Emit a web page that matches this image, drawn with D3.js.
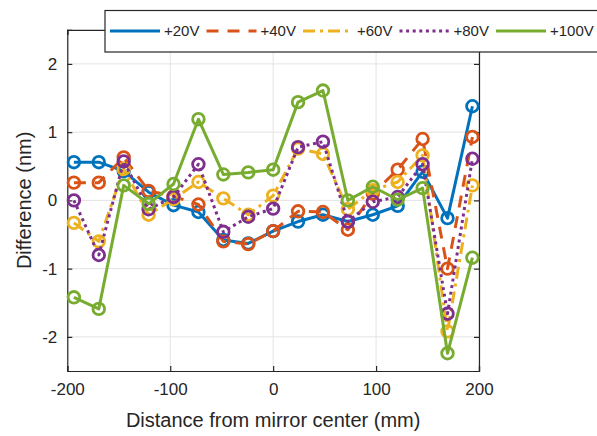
<!DOCTYPE html>
<html><head><meta charset="utf-8">
<script src="https://cdn.jsdelivr.net/npm/d3@7"></script>
<style>body{margin:0;background:#fff}svg{display:block}text{font-family:"Liberation Sans",Arial,sans-serif;fill:#262626}</style>
</head><body><svg id="c" width="597" height="436"></svg>
<script>
const xPos = [-193.6,-169.4,-145.2,-121,-96.8,-72.6,-48.4,-24.2,0,24.2,48.4,72.6,96.8,121,145.2,169.4,193.6];
const v20  = [0.56,0.56,0.43,0.12,-0.07,-0.17,-0.58,-0.63,-0.45,-0.31,-0.21,-0.31,-0.21,-0.08,0.42,-0.26,1.38];
const v40  = [0.26,0.26,0.63,0.14,0.06,-0.06,-0.60,-0.64,-0.45,-0.16,-0.17,-0.43,0.10,0.45,0.90,-1.00,0.93];
const v60  = [-0.33,-0.60,0.46,-0.21,0.02,0.27,0.03,-0.21,0.07,0.76,0.68,-0.13,0.15,0.27,0.66,-1.92,0.22];
const v80  = [0.00,-0.80,0.57,-0.13,0.05,0.53,-0.46,-0.24,-0.12,0.78,0.86,-0.31,-0.02,0.05,0.53,-1.66,0.61];
const v100 = [-1.42,-1.59,0.22,-0.05,0.24,1.19,0.38,0.41,0.45,1.44,1.61,0.00,0.20,0.01,0.18,-2.24,-0.84];
const seriesNames = ["+20V","+40V","+60V","+80V","+100V"];
const xTicks = [-200,-100,0,100,200];
const yTicks = [-2,-1,0,1,2];
const xLabel = "Distance from mirror center (mm)";
const yLabel = "Difference (nm)";

const colors = ["#0072BD","#D95319","#EDB120","#7E2F8E","#77AC30"];
const dashes = [null,"12,9","12,5,3,5","3,3.6",null];
const allVals = [v20,v40,v60,v80,v100];

const svg = d3.select("#c");
const L=67.3,R=479,T=29.8,B=371;
const x = d3.scaleLinear().domain([-200,200]).range([L,R]);
const y = d3.scaleLinear().domain([-2.5,2.5]).range([B,T]);

// grid
const g = svg.append("g");
g.selectAll(".gx").data(xTicks).join("line").attr("x1",d=>x(d)).attr("x2",d=>x(d)).attr("y1",T).attr("y2",B).attr("stroke","#e3e3e3").attr("stroke-width",1);
g.selectAll(".gy").data(yTicks).join("line").attr("y1",d=>y(d)).attr("y2",d=>y(d)).attr("x1",L).attr("x2",R).attr("stroke","#e3e3e3").attr("stroke-width",1);

// axes
const ax = svg.append("g").attr("transform",`translate(0,${B})`).call(d3.axisBottom(x).tickValues(xTicks).tickSize(-5).tickPadding(12).tickFormat(d3.format("d")));
const ay = svg.append("g").attr("transform",`translate(${L},0)`).call(d3.axisLeft(y).tickValues(yTicks).tickSize(-5).tickPadding(10).tickFormat(d3.format("d")));
const axT = svg.append("g").attr("transform",`translate(0,${T})`).call(d3.axisTop(x).tickValues(xTicks).tickSize(-5).tickFormat(""));
const ayR = svg.append("g").attr("transform",`translate(${R},0)`).call(d3.axisRight(y).tickValues(yTicks).tickSize(-5).tickFormat(""));
[ax,ay,axT,ayR].forEach(a=>{
  a.select(".domain").attr("stroke","#262626").attr("stroke-width",1.2);
  a.selectAll(".tick line").attr("stroke","#262626").attr("stroke-width",1.2);
  a.selectAll(".tick text").style("font-size","17px").attr("fill","#262626").style("font-family","'Liberation Sans',Arial,sans-serif");
});
ay.selectAll(".tick text").text(d=>d<0?"-"+Math.abs(d):d);
ax.selectAll(".tick text").text(d=>d<0?"-"+Math.abs(d):d);

svg.append("text").attr("x",(L+R)/2).attr("y",427).attr("text-anchor","middle").style("font-size","20px").text(xLabel);
svg.append("text").attr("transform",`translate(31,${(T+B)/2}) rotate(-90)`).attr("text-anchor","middle").style("font-size","20px").text(yLabel);

// data
const plot = svg.append("g");
const line = d3.line().x(d=>x(d[0])).y(d=>y(d[1]));
allVals.forEach((vals,i)=>{
  const pts = xPos.map((xv,j)=>[xv,vals[j]]);
  const gs = plot.append("g");
  gs.append("path").datum(pts).attr("d",line).attr("fill","none").attr("stroke",colors[i]).attr("stroke-width",3).attr("stroke-dasharray",dashes[i]).attr("stroke-linejoin","round");
  gs.selectAll("circle").data(pts).join("circle").attr("cx",d=>x(d[0])).attr("cy",d=>y(d[1])).attr("r",5.8).attr("fill","none").attr("stroke",colors[i]).attr("stroke-width",2.8);
});

// legend
const lg = svg.append("g");
lg.append("rect").attr("x",105).attr("y",10.5).attr("width",500).attr("height",41.5).attr("fill","#fff").attr("stroke","#262626").attr("stroke-width",1.2);
seriesNames.forEach((nm,i)=>{
  const x0 = 110 + i*96.5;
  lg.append("line").attr("x1",x0).attr("x2",x0+50).attr("y1",31).attr("y2",31).attr("stroke",colors[i]).attr("stroke-width",3).attr("stroke-dasharray",dashes[i]);
  lg.append("text").attr("x",x0+54).attr("y",31).attr("dy","0.36em").style("font-size","15px").text(nm);
});
</script></body></html>
